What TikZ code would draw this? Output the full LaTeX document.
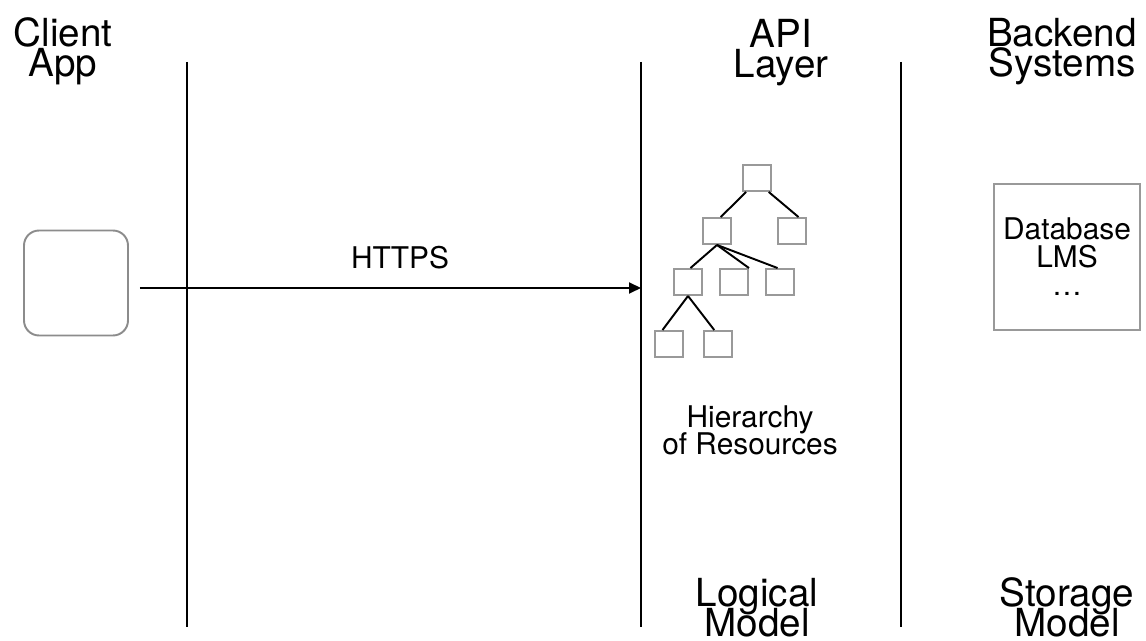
\documentclass[tikz,border=0pt]{standalone}
\usepackage{fontspec}
\setmainfont{TeX Gyre Heros}
\usetikzlibrary{calc,positioning,arrows.meta}

\newcommand\tightlines{\lineskiplimit -20pt\relax}
\tikzset{
  res/.style={draw=gray!80, line width=1.1pt, minimum width=0.56cm, minimum height=0.52cm, inner sep=0pt},
  title/.style={anchor=north, inner sep=0pt, align=center, font=\fontsize{22}{17}\selectfont\tightlines},
  lbl/.style={anchor=north, inner sep=0pt, align=center, font=\fontsize{17}{15}\selectfont\tightlines},
}

\begin{document}
\begin{tikzpicture}[x=0.02cm,y=-0.02cm,line width=1.1pt]
\useasboundingbox (0,0) rectangle (1146,641);

% separators
\coordinate (s1t) at (187,62);
\coordinate (s1b) at (187,627);
\coordinate (s2t) at (641,62);
\coordinate (s2b) at (641,627);
\coordinate (s3t) at (901,62);
\coordinate (s3b) at (901,627);
\draw (s1t) -- (s1b);
\draw (s2t) -- (s2b);
\draw (s3t) -- (s3b);

% headings
\node[title] (client) at (63,17) {Client\\App};
\node[title] (api) at (781,18) {API\\Layer};
\node[title] (backend) at (1062,17) {Backend\\Systems};
\node[title] (logical) at (757,577) {Logical\\Model};
\node[title] (storage) at (1067,577) {Storage\\Model};

% client app and request
\node[draw=gray!90, rounded corners=0.3cm, minimum width=2.08cm, minimum height=2.1cm] (app) at (76,283) {};
\coordinate (req) at ($(app.east)+(0,5)$);
\draw[-{Triangle[length=0.24cm,width=0.22cm]}, shorten <=0.22cm] (req) -- (req -| s2t);
\node[lbl] (https) at (400,245) {HTTPS};

% resource tree
\node[res] (r) at (757,178) {};
\node[res] (a) at (717,231) {};
\node[res] (b) at (792,231) {};
\node[res] (aa) at (688,282) {};
\node[res] (ab) at (734,282) {};
\node[res] (ac) at (780,282) {};
\node[res] (aaa) at (669,344) {};
\node[res] (aab) at (718,344) {};

\draw (r.232) -- (a.75);
\draw (r.310) -- (b.65);
\draw (a.south) -- (aa.80);
\draw (a.south) -- (ab.north east);
\draw (a.south) -- (ac.100);
\draw (aa.south) -- (aaa.115);
\draw (aa.south) -- (aab.105);

\node[lbl] (hier) at (750,405) {Hierarchy\\of Resources};

% backend
\node[draw=gray!80, minimum width=2.92cm, minimum height=2.92cm, align=center, font=\fontsize{17}{16}\selectfont] (db) at (1067,257) {Database\\LMS\\\dots};

\end{tikzpicture}
\end{document}
